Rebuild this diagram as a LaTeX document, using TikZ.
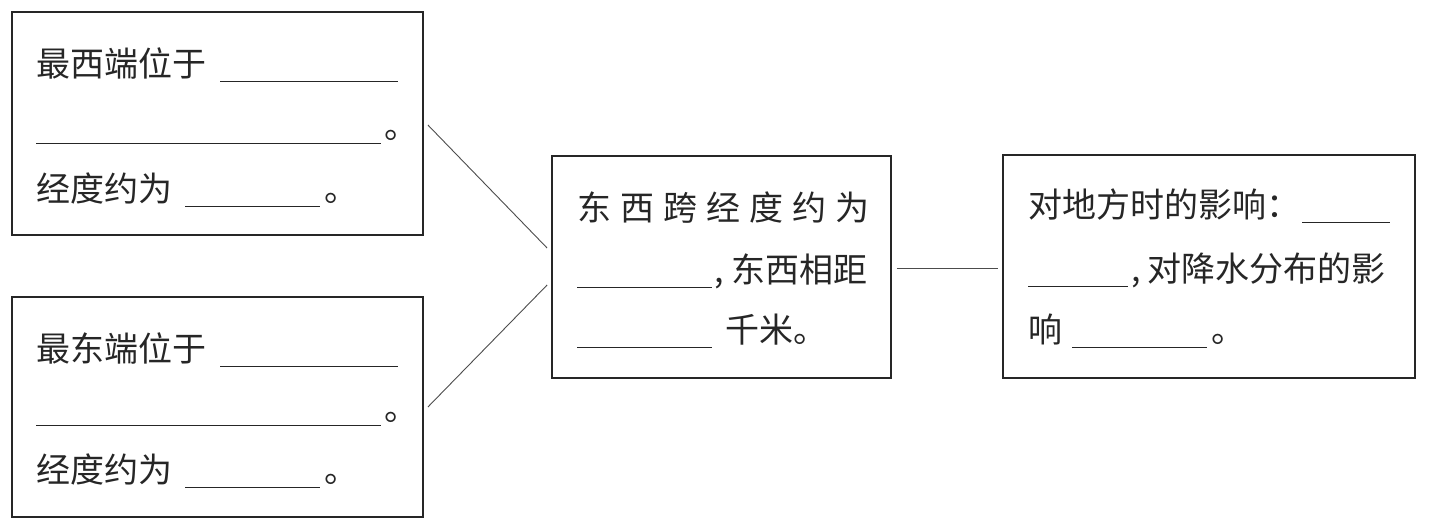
\documentclass[tikz,border=0pt]{standalone}
\usepackage{fontspec}
\setmainfont{Noto Sans CJK SC}
\usepackage{tikz}
\usetikzlibrary{positioning}
\usepackage{xcolor}
\newcommand{\blank}[1]{\rule[-6pt]{#1}{1pt}}
\newcommand{\kuan}{\hspace{9pt}}

\begin{document}
\begin{tikzpicture}[x=1pt, y=-1pt,
    box/.style={draw=black!85, line width=1.8pt, inner sep=0pt},
    txt/.style={anchor=base west, inner sep=0pt, text=black!85, font=\fontsize{34}{40}\selectfont},
    link/.style={draw=black!70, line width=0.9pt}]
    \useasboundingbox (0,0) rectangle (1432,523);
    % 最西端
    \node[box, minimum width=411pt, minimum height=223pt] (xi) at (217.5,123.5) {};
    \node[txt] (xi1) at (36,76) {最西端位于\hspace{14pt}\blank{178pt}};
    \node[txt] (xi2) at (36,138) {\blank{345pt}\hspace{3pt}。};
    \node[txt] (xi3) at (36,201) {经度约为\hspace{13pt}\blank{135pt}\hspace{4pt}。};
    % 最东端
    \node[box, minimum width=411pt, minimum height=220pt] (dong) at (217.5,407) {};
    \node[txt] (dong1) at (36,361) {最东端位于\hspace{14pt}\blank{178pt}};
    \node[txt] (dong2) at (36,420) {\blank{345pt}\hspace{3pt}。};
    \node[txt] (dong3) at (36,482) {经度约为\hspace{13pt}\blank{135pt}\hspace{4pt}。};
    % 东西跨经度
    \node[box, minimum width=339pt, minimum height=222pt] (zhong) at (721.5,267) {};
    \node[txt] (zhong1) at (577,220) {东\kuan 西\kuan 跨\kuan 经\kuan 度\kuan 约\kuan 为};
    \node[txt] (zhong2) at (577,282) {\blank{135pt}\hspace{2pt},\hspace{8pt}东西相距};
    \node[txt] (zhong3) at (577,342) {\blank{135pt}\hspace{13pt}千米。};
    % 影响
    \node[box, minimum width=412pt, minimum height=223pt] (ying) at (1209,266.5) {};
    \node[txt] (ying1) at (1028,217) {对地方时的影响：\hspace{2pt}\blank{88pt}};
    \node[txt] (ying2) at (1028,281) {\blank{100pt}\hspace{3pt},\hspace{7pt}对降水分布的影};
    \node[txt] (ying3) at (1028,342) {响\hspace{10pt}\blank{135pt}\hspace{4pt}。};
    % 连线
    \draw[link] ([xshift=4pt,yshift=-1.5pt]xi.east) -- ([xshift=-4pt,yshift=19pt]zhong.west);
    \draw[link] ([xshift=4pt]dong.east) -- ([xshift=-4pt,yshift=-18pt]zhong.west);
    \draw[link] ([xshift=5pt,yshift=-1pt]zhong.east) -- ([xshift=-4pt,yshift=-1.5pt]ying.west);
\end{tikzpicture}
\end{document}
